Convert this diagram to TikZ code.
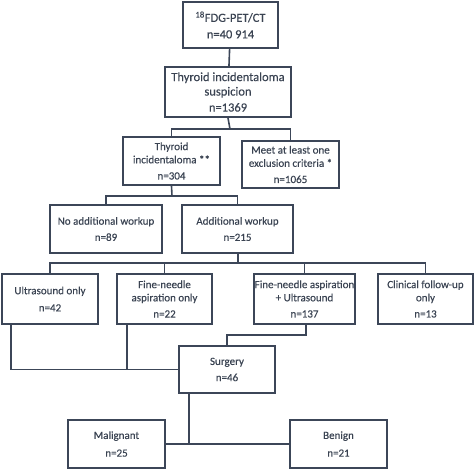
\documentclass[tikz,border=0pt]{standalone}
\usepackage{fontspec}
\setmainfont{Carlito}[FakeBold=0.35]
\usetikzlibrary{positioning}
\definecolor{boxline}{HTML}{3C4658}
\definecolor{boxtext}{HTML}{3A4352}

\begin{document}
\begin{tikzpicture}[x=1pt, y=-1pt,
    box/.style={draw=boxline, line width=2pt, text=boxtext, align=center,
        inner xsep=0.5pt, inner ysep=1pt, font=\fontsize{11}{13.2}\selectfont},
    topbox/.style={box, font=\fontsize{12.5}{14.5}\selectfont},
    boxsize/.style 2 args={minimum width=#1pt, minimum height=#2pt},
    link/.style={draw=boxline, line width=1.6pt}]

    \useasboundingbox (0,0) rectangle (475,469);

    % top of the flow
    \node[topbox, boxsize={95}{46}] (pet) at (230.5,25)
        {\textsuperscript{18}FDG-PET/CT\\[2pt] n=40 914};
    \node[topbox, boxsize={126}{50}] (susp) at (228,92)
        {Thyroid incidentaloma\\ suspicion\\[1.5pt] n=1369};
    \node[box, boxsize={97}{48}] (inc) at (171.5,161)
        {Thyroid\\ incidentaloma **\\[3pt] n=304};
    \node[box, boxsize={97}{47}] (excl) at (290.5,164.5)
        {Meet at least one\\ exclusion criteria *\\[3pt] n=1065};
    \node[box, boxsize={112}{48}] (noadd) at (106,229)
        {No additional workup\\[3pt] n=89};
    \node[box, boxsize={111}{48}] (add) at (237.5,229)
        {Additional workup\\[3pt] n=215};

    % workup row
    \node[box, boxsize={96}{50}] (us) at (50,299)
        {Ultrasound only\\[4pt] n=42};
    \node[box, boxsize={95}{50}] (fna) at (164.5,299)
        {Fine-needle\\ aspiration only\\[3pt] n=22};
    \node[box, boxsize={101}{50}] (fnaus) at (304.5,299)
        {Fine-needle aspiration\\ + Ultrasound\\[3pt] n=137};
    \node[box, boxsize={95}{50}] (clin) at (425.5,299)
        {Clinical follow-up\\ only\\[3pt] n=13};

    % outcome
    \node[box, boxsize={96}{47}] (surg) at (227,369.5)
        {Surgery\\[3pt] n=46};
    \node[box, boxsize={97}{48}] (mal) at (116.5,444)
        {Malignant\\[4.5pt] n=25};
    \node[box, boxsize={97}{48}] (ben) at (338.5,444)
        {Benign\\[4.5pt] n=21};

    \coordinate (j1) at (230,129);
    \coordinate (j2) at (172,196);
    \coordinate (j3) at (238,263);
    \coordinate (j4) at (306,335);
    \coordinate (j5) at (11,369.5);
    \coordinate (j6) at (127,369.5);
    \coordinate (j7) at (189,444);

    \draw[link] (pet) -- (susp);
    \draw[link] (susp.south) -- (j1);
    \draw[link] (inc.north) |- (j1) -| (excl.north);
    \draw[link] (inc.south) -- (j2);
    \draw[link] (noadd.north) |- (j2) -| (add.north);
    \draw[link] (add.south -| j3) -- (j3);
    \draw[link] (us.north) |- (j3) -| (clin.north);
    \draw[link] (fna.north) -- (fna.north |- j3);
    \draw[link] (fnaus.north) -- (fnaus.north |- j3);
    \draw[link] (us.south -| j5) -- (j5) -- (surg.west);
    \draw[link] (fna.south -| j6) -- (j6);
    \draw[link] (fnaus.south -| j4) -- (j4) -| (surg.north);
    \draw[link] (surg.south -| j7) -- (j7);
    \draw[link] (mal.east) -- (ben.west);

\end{tikzpicture}
\end{document}
